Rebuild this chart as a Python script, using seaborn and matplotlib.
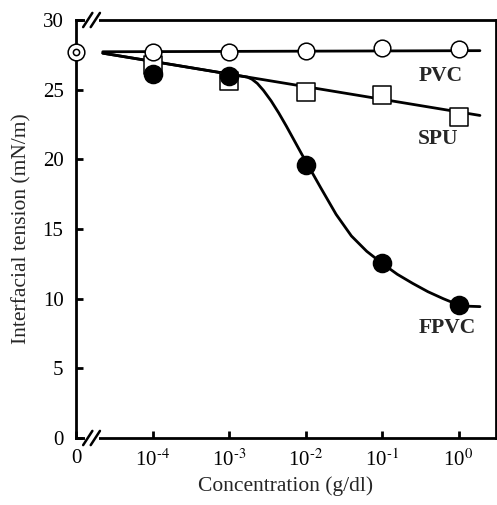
import numpy as np
import pandas as pd
import seaborn as sns
import matplotlib.pyplot as plt

# x is log10 of concentration (g/dl); the "0" concentration sits one decade below 10^-4
conc_log = [-4, -3, -2, -1, 0]
pvc = [27.7, 27.7, 27.8, 28.0, 27.9]
spu = [26.8, 25.6, 24.8, 24.6, 23.05]
fpvc = [26.1, 25.95, 19.6, 12.55, 9.55]
zero_x = -5
zero_tension = 27.7

# fitted curves as drawn in the figure
pvc_fit_x = [-4.65, 0.28]
pvc_fit_y = [27.72, 27.8]
spu_fit_x = [-4.65, 0.28]
spu_fit_y = [27.62, 23.15]
fpvc_fit_x = [-4.65, -3.7, -2.76, -2.7, -2.63, -2.55, -2.45, -2.35, -2.25, -2.15,
              -2.05, -1.98, -1.8, -1.6, -1.4, -1.2, -1.0, -0.8, -0.6, -0.4,
              -0.2, 0.0, 0.12, 0.28]
fpvc_fit_y = [27.62, 26.76, 25.9, 25.75, 25.45, 24.95, 24.2, 23.33, 22.38, 21.38,
              20.38, 19.7, 17.95, 16.05, 14.5, 13.4, 12.54, 11.75, 11.1, 10.5,
              10.0, 9.55, 9.46, 9.43]

xtick_pos = [-5, -4, -3, -2, -1, 0]
xtick_labels = ["0", r"10$^{\text{-4}}$", r"10$^{\text{-3}}$", r"10$^{\text{-2}}$",
                r"10$^{\text{-1}}$", r"10$^{\text{0}}$"]
yticks = [0, 5, 10, 15, 20, 25, 30]

sns.set_style("ticks")
plt.rcParams["font.family"] = ["Liberation Serif", "DejaVu Serif"]
plt.rcParams["mathtext.fontset"] = "stix"

df = pd.DataFrame({"x": conc_log, "PVC": pvc, "SPU": spu, "FPVC": fpvc})

fig = plt.figure(figsize=(4.97, 5.05), dpi=100)
ax = fig.add_axes([76 / 497, 67 / 505, 420 / 497, 418 / 505])

# fit lines
for fx, fy in [(pvc_fit_x, pvc_fit_y), (spu_fit_x, spu_fit_y), (fpvc_fit_x, fpvc_fit_y)]:
    sns.lineplot(x=fx, y=fy, color="black", lw=2, sort=False, estimator=None, ax=ax, zorder=2)

# markers
sns.scatterplot(data=df, x="x", y="SPU", marker="s", s=13 ** 2, color="white",
                edgecolor="black", linewidth=1.1, ax=ax, zorder=3)
sns.scatterplot(data=df, x="x", y="FPVC", marker="o", s=13 ** 2, color="black",
                edgecolor="black", linewidth=1.1, ax=ax, zorder=4)
sns.scatterplot(data=df, x="x", y="PVC", marker="o", s=12 ** 2, color="white",
                edgecolor="black", linewidth=1.1, ax=ax, zorder=5)

# pure water point at zero concentration
sns.scatterplot(x=[zero_x], y=[zero_tension], marker="o", s=12 ** 2, color="white",
                edgecolor="black", linewidth=1.1, ax=ax, zorder=6, clip_on=False)
sns.scatterplot(x=[zero_x], y=[zero_tension], marker="o", s=4.5 ** 2, color="white",
                edgecolor="black", linewidth=1.1, ax=ax, zorder=7, clip_on=False)

ax.text(-0.235, 25.95, "PVC", fontsize=15.5, fontweight="bold", ha="center", va="center")
ax.text(-0.27, 21.43, "SPU", fontsize=15.5, fontweight="bold", ha="center", va="center")
ax.text(-0.15, 7.9, "FPVC", fontsize=15.5, fontweight="bold", ha="center", va="center")

ax.set_xlim(-5, 0.49)
ax.set_ylim(0, 30)
ax.set_xticks(xtick_pos)
ax.set_xticklabels(xtick_labels)
ax.set_yticks(yticks)
ax.tick_params(direction="in", length=5, width=2, labelsize=15, colors="black")
ax.tick_params(axis="x", pad=8)
ax.tick_params(axis="y", pad=9)
for sp in ax.spines.values():
    sp.set_linewidth(2)
    sp.set_color("black")
ax.set_xlabel("Concentration (g/dl)", fontsize=15.5, labelpad=4)
ax.set_ylabel("Interfacial tension (mN/m)", fontsize=15.5, labelpad=8)

# axis break marks on top and bottom spines
for yb in [0, 1]:
    ax.plot([0.022, 0.055], [yb, yb], transform=ax.transAxes, color="white",
            lw=4, clip_on=False, zorder=8, solid_capstyle="butt")
    for xb in [0.028, 0.046]:
        ax.plot([xb - 0.011, xb + 0.011], [yb - 0.017, yb + 0.017], transform=ax.transAxes,
                color="black", lw=1.8, clip_on=False, zorder=9)

fig.savefig("out.png", dpi=100)
